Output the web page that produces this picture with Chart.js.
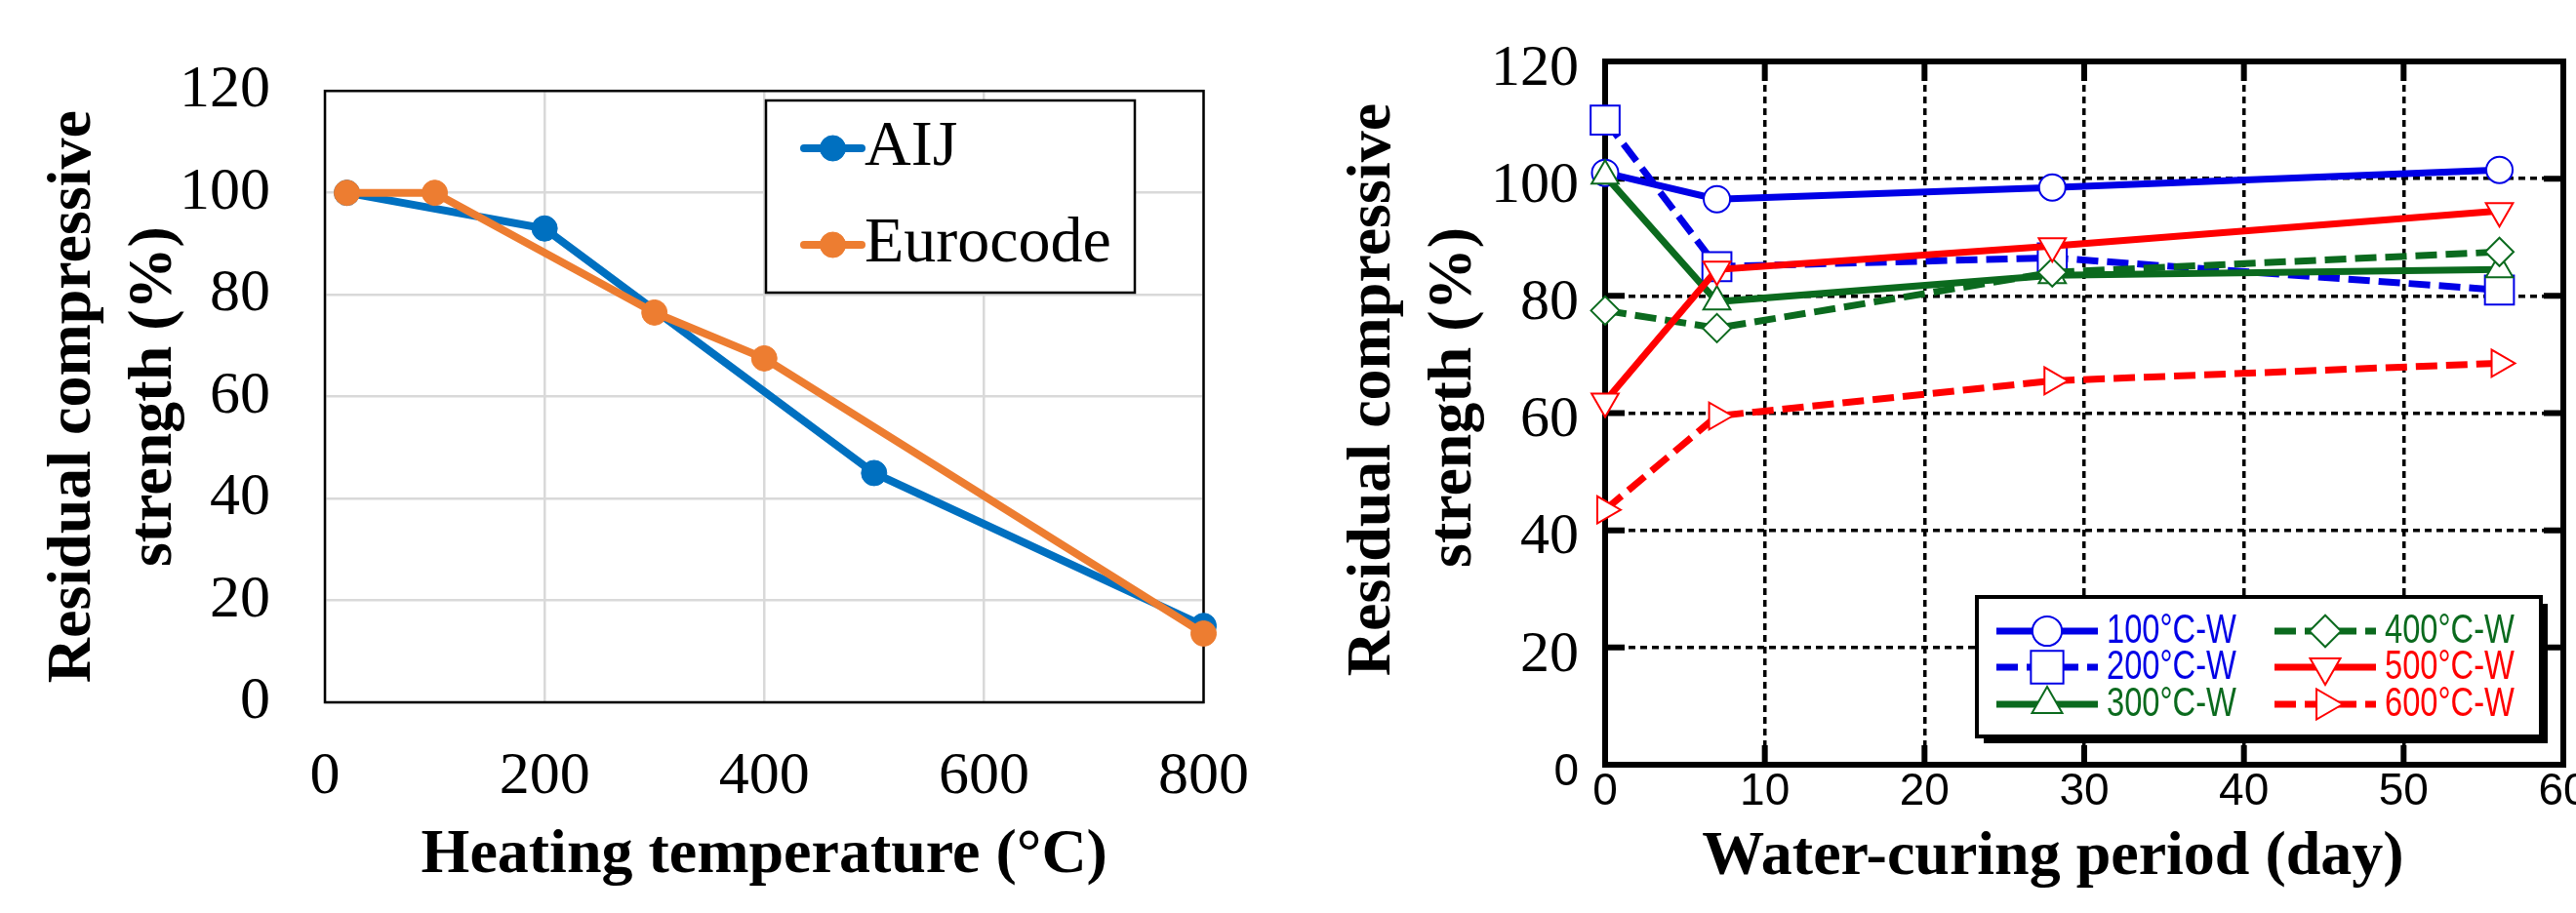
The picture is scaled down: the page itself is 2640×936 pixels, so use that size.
<!DOCTYPE html>
<html>
<head>
<meta charset="utf-8">
<script src="https://cdn.jsdelivr.net/npm/chart.js@4.4.0/dist/chart.umd.min.js"></script>
<style>
html, body { margin: 0; padding: 0; background: #fff; }
#wrap { position: relative; width: 2640px; height: 936px; overflow: hidden; }
.box { position: absolute; top: 0; height: 936px; overflow: hidden; }
#leftBox { left: 0; width: 1320px; }
#rightBox { left: 1320px; width: 1320px; }
canvas { display: block; }
</style>
</head>
<body>
<div id="wrap">
  <div class="box" id="leftBox"><canvas id="heatChart" width="1320" height="936"></canvas></div>
  <div class="box" id="rightBox"><canvas id="cureChart" width="1400" height="936"></canvas></div>
</div>
<script>
// ---- left chart data (heating temperature vs residual strength)
const aijTemp = [20, 200, 500, 800];
const aijStrength = [100, 93, 45, 15];
const euroTemp = [20, 100, 300, 400, 800];
const euroStrength = [100, 100, 76.5, 67.5, 13.5];
const heatTicks = [0, 200, 400, 600, 800];
const strengthTicks = [0, 20, 40, 60, 80, 100, 120];

// ---- right chart data (water curing period)
const curingDays = [0, 7, 28, 56];
const w100 = [101, 96.5, 98.5, 101.5];
const w200 = [110, 85, 86.5, 81];
const w300 = [100.5, 79, 83.5, 84.5];
const w400 = [77.5, 74.5, 84, 87.5];
const w500 = [62, 84.5, 88.5, 94.5];
const w600 = [43.5, 59.5, 65.5, 68.5];
const cureLabels = ['100°C-W', '200°C-W', '300°C-W', '400°C-W', '500°C-W', '600°C-W'];
const dayTicks = [0, 10, 20, 30, 40, 50, 60];

const SERIF = "'Liberation Serif', 'Times New Roman', serif";
const SANS = "'Liberation Sans', Arial, sans-serif";

const pts = (xs, ys) => xs.map((x, i) => ({ x: x, y: ys[i] }));
const fixTicks = arr => s => { s.ticks = arr.map(v => ({ value: v })); };

// black frame round the plot, optional inner tick stubs
const framePlugin = {
  id: 'frame',
  beforeDatasetsDraw(chart, args, o) {
    const { ctx, chartArea: a, scales } = chart;
    ctx.save();
    ctx.strokeStyle = '#000';
    ctx.lineWidth = o.width;
    ctx.strokeRect(a.left, a.top, a.right - a.left, a.bottom - a.top);
    if (o.stub) {
      ctx.beginPath();
      scales.x.ticks.forEach(t => {
        const p = scales.x.getPixelForValue(t.value);
        ctx.moveTo(p, a.top); ctx.lineTo(p, a.top + o.stub);
        ctx.moveTo(p, a.bottom); ctx.lineTo(p, a.bottom - o.stub);
      });
      scales.y.ticks.forEach(t => {
        const p = scales.y.getPixelForValue(t.value);
        ctx.moveTo(a.left, p); ctx.lineTo(a.left + o.stub, p);
        ctx.moveTo(a.right, p); ctx.lineTo(a.right - o.stub, p);
      });
      ctx.lineWidth = o.stubWidth;
      ctx.stroke();
    }
    ctx.restore();
  }
};

// legend box drawn inside the plot
const boxLegend = {
  id: 'boxLegend',
  afterDatasetsDraw(chart, args, o) {
    const ctx = chart.ctx;
    ctx.save();
    if (o.shadow) {
      ctx.fillStyle = '#000';
      ctx.fillRect(o.x + o.shadow, o.y + o.shadow, o.w, o.h);
    }
    ctx.fillStyle = '#fff';
    ctx.fillRect(o.x, o.y, o.w, o.h);
    ctx.lineWidth = o.border;
    ctx.strokeStyle = '#000';
    ctx.strokeRect(o.x, o.y, o.w, o.h);
    chart.data.datasets.forEach((ds, i) => {
      const col = Math.floor(i / o.rows), row = i % o.rows;
      const lx = o.colX[col], ly = o.rowY[row];
      ctx.setLineDash(ds.borderDash || []);
      ctx.lineCap = o.cap;
      ctx.lineWidth = ds.borderWidth;
      ctx.strokeStyle = ds.borderColor;
      ctx.beginPath(); ctx.moveTo(lx, ly); ctx.lineTo(lx + o.lineLen, ly); ctx.stroke();
      ctx.setLineDash([]);
      ctx.lineCap = 'butt';
      ctx.fillStyle = ds.pointBackgroundColor;
      ctx.strokeStyle = ds.pointBorderColor;
      ctx.lineWidth = ds.pointBorderWidth;
      Chart.helpers.drawPoint(ctx, {
        pointStyle: ds.pointStyle, rotation: ds.pointRotation || 0,
        radius: ds.pointRadius * o.markerScale, borderWidth: ds.pointBorderWidth
      }, lx + o.lineLen / 2, ly);
      // label, optionally squeezed sideways like the narrow font of the original
      ctx.save();
      ctx.translate(lx + o.lineLen + o.gap, ly);
      ctx.scale(o.squeeze || 1, 1);
      ctx.fillStyle = o.textColor || ds.borderColor;
      ctx.font = o.font;
      ctx.textAlign = 'left';
      ctx.textBaseline = 'middle';
      ctx.fillText(ds.label, 0, 0);
      ctx.restore();
    });
    ctx.restore();
  }
};

// ================= left chart
const aijColor = '#0070c0', euroColor = '#ed7d31';
new Chart(document.getElementById('heatChart'), {
  type: 'line',
  data: {
    datasets: [
      { label: 'AIJ', data: pts(aijTemp, aijStrength), borderColor: aijColor, borderWidth: 8,
        pointBackgroundColor: aijColor, pointBorderColor: aijColor, pointBorderWidth: 1,
        pointRadius: 13, pointStyle: 'circle', tension: 0, clip: false, order: 1 },
      { label: 'Eurocode', data: pts(euroTemp, euroStrength), borderColor: euroColor, borderWidth: 8,
        pointBackgroundColor: euroColor, pointBorderColor: euroColor, pointBorderWidth: 1,
        pointRadius: 13, pointStyle: 'circle', tension: 0, clip: false, order: 0 }
    ]
  },
  options: {
    responsive: false, animation: false,
    layout: { padding: { top: 63, right: 79, left: 0, bottom: 0 } },
    plugins: {
      legend: { display: false }, tooltip: { enabled: false },
      frame: { width: 2.5 },
      boxLegend: { x: 785, y: 103, w: 378, h: 197, border: 2.5, rows: 2, colX: [824], rowY: [152, 251],
        lineLen: 59, gap: 3, cap: 'round', markerScale: 1, textColor: '#000', font: '66px ' + SERIF }
    },
    scales: {
      x: {
        type: 'linear', min: 0, max: 800,
        afterBuildTicks: fixTicks(heatTicks),
        afterFit: s => { s.height = 216; },
        grid: { color: '#d9d9d9', lineWidth: 2.5, drawTicks: false },
        border: { display: false },
        ticks: { padding: 40, color: '#000', font: { family: SERIF, size: 62 } },
        title: { display: true, text: 'Heating temperature (°C)', color: '#000',
          font: { family: SERIF, size: 64, weight: 'bold', lineHeight: 1.2 }, padding: { top: 0, bottom: 20 } }
      },
      y: {
        min: 0, max: 120,
        afterBuildTicks: fixTicks(strengthTicks),
        afterFit: s => { s.width = 333; },
        grid: { color: '#d9d9d9', lineWidth: 2.5, drawTicks: false },
        border: { display: false },
        ticks: { padding: 56, color: '#000', font: { family: SERIF, size: 62 } },
        title: { display: true, text: ['Residual compressive', 'strength (%)'], color: '#000',
          font: { family: SERIF, size: 64, weight: 'bold', lineHeight: 1.3 }, padding: { top: 34, bottom: 0 } }
      }
    }
  },
  plugins: [framePlugin, boxLegend]
});

// ================= right chart
const blue = '#0000e6', green = '#0b6a1e', red = '#ff0000';
const dash = [22, 9];
function cureSet(i, values, color, style, radius, rotation, dashed) {
  return {
    label: cureLabels[i], data: pts(curingDays, values),
    borderColor: color, borderWidth: 7, borderDash: dashed ? dash : [],
    pointStyle: style, pointRotation: rotation, pointRadius: radius,
    pointBackgroundColor: '#fff', pointBorderColor: color, pointBorderWidth: 2,
    tension: 0, clip: false, order: 5 - i
  };
}
new Chart(document.getElementById('cureChart'), {
  type: 'line',
  data: {
    datasets: [
      cureSet(0, w100, blue, 'circle', 13.5, 0, false),
      cureSet(1, w200, blue, 'rect', 21, 0, true),
      cureSet(2, w300, green, 'triangle', 16, 0, false),
      cureSet(3, w400, green, 'rectRot', 14.5, 0, true),
      cureSet(4, w500, red, 'triangle', 16, 180, false),
      cureSet(5, w600, red, 'triangle', 16, 90, true)
    ]
  },
  options: {
    responsive: false, animation: false,
    layout: { padding: { top: 60, right: 93, left: 0, bottom: 0 } },
    plugins: {
      legend: { display: false }, tooltip: { enabled: false },
      frame: { width: 6, stub: 20, stubWidth: 6 },
      boxLegend: { x: 706, y: 612, w: 578, h: 143, border: 4, shadow: 7, rows: 3,
        colX: [726, 1011], rowY: [647, 684, 722], lineLen: 104, gap: 9, cap: 'butt',
        markerScale: 1.12, font: '43px ' + SANS, squeeze: 0.76 }
    },
    scales: {
      x: {
        type: 'linear', min: 0, max: 60,
        afterBuildTicks: fixTicks(dayTicks),
        afterFit: s => { s.height = 152; },
        grid: { color: '#000', lineWidth: 3.5, drawTicks: false },
        border: { display: false, dash: [7, 5] },
        ticks: { padding: 5, color: '#000', font: { family: SANS, size: 46, lineHeight: 1 } },
        title: { display: true, text: 'Water-curing period (day)    ', color: '#000',
          font: { family: SERIF, size: 64, weight: 'bold', lineHeight: 1.2 }, padding: { top: 0, bottom: 18 } }
      },
      y: {
        min: 0, max: 120,
        afterBuildTicks: fixTicks(strengthTicks),
        afterFit: s => { s.width = 325; },
        grid: { color: '#000', lineWidth: 3.5, drawTicks: false },
        border: { display: false, dash: [7, 5] },
        ticks: {
          padding: 27, labelOffset: 8, color: '#000',
          font: c => (c.tick && c.tick.value === 0)
            ? { family: SANS, size: 46 } : { family: SERIF, size: 60 }
        },
        title: { display: true, text: ['   Residual compressive', '  strength (%)'], color: '#000',
          font: { family: SERIF, size: 64, weight: 'bold', lineHeight: 1.3 }, padding: { top: 46, bottom: 0 } }
      }
    }
  },
  plugins: [framePlugin, boxLegend]
});
</script>
</body>
</html>
